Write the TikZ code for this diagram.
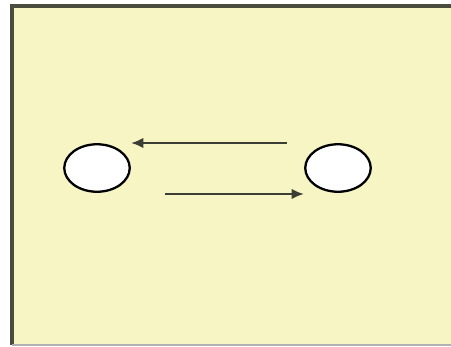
\documentclass[tikz,border=0pt]{standalone}
\usepackage[svgnames, dvipsnames]{xcolor}
\usetikzlibrary{calc, arrows.meta, shapes.geometric}

\definecolor{paper}{HTML}{F7F5C4}
\definecolor{rim}{HTML}{4A4C3E}
\definecolor{shaft}{HTML}{3C3E36}

\begin{document}
\begin{tikzpicture}[x=0.02cm, y=-0.02cm]
    \useasboundingbox (0,0) rectangle (451,346);
    \fill[paper] (12,6) rectangle (460,345);
    \draw[rim, line width=2pt] (12,345) -- (12,6) -- (460,6);
    \draw[Gray!70, line width=0.8pt] (12,345) -- (460,345);
    \node[ellipse, draw, fill=white, line width=1.3pt, inner sep=0pt, minimum width=1.31cm, minimum height=0.95cm] (L) at (97,168) {};
    \node[ellipse, draw, fill=white, line width=1.3pt, inner sep=0pt, minimum width=1.31cm, minimum height=0.95cm] (R) at (338,168) {};
    \coordinate (A) at (287,143);
    \coordinate (B) at (131,143);
    \coordinate (C) at (165,194);
    \coordinate (D) at (304,194);
    \draw[shaft, line width=1.6pt, -{Latex[length=7pt, width=6pt]}] (A) -- (B);
    \draw[shaft, line width=1.6pt, -{Latex[length=7pt, width=6pt]}] (C) -- (D);
\end{tikzpicture}
\end{document}
